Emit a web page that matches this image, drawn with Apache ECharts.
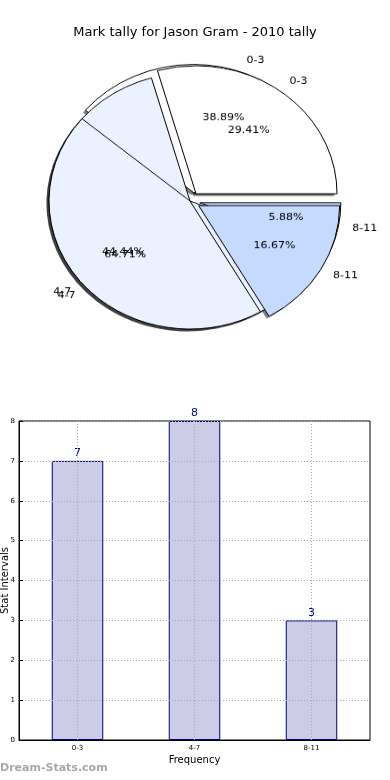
<!DOCTYPE html>
<html>
<head>
<meta charset="utf-8">
<script src="https://cdn.jsdelivr.net/npm/echarts@6/dist/echarts.min.js"></script>
<style>
html,body{margin:0;padding:0;background:#fff;}
#main{position:absolute;left:0;top:0;width:390px;height:780px;}
#pie{position:absolute;left:0;top:0;width:390px;height:390px;transform:scaleY(0.908);transform-origin:190px 201px;}
</style>
</head>
<body>
<div id="main"></div>
<div id="pie"></div>
<script>
// ---- data ----
const categories = ['0-3', '4-7', '8-11'];
const pieA = [7, 8, 3];          // 38.89%, 44.44%, 16.67%
const pieB = [5, 11, 1];         // 29.41%, 64.71%, 5.88%
const explodedA = [true, false, true];
const explodedB = [true, false, true];
const barValues = [7, 8, 3];
const yTicks = [0, 1, 2, 3, 4, 5, 6, 7, 8];

const sliceColors = ['#ffffff', '#ebf1fe', '#c6d9fe'];
const FONT = 'DejaVu Sans';

// ---- pie ----
const C = [190, 201], R = 141;
function items(vals, sel, visible, colorFn) {
  return vals.map((v, i) => ({
    name: categories[i], value: v, selected: sel[i],
    itemStyle: visible[i] ? colorFn(i) : {color: 'rgba(0,0,0,0)', borderWidth: 0}
  }));
}
const base = {
  type: 'pie', center: C, radius: R, startAngle: 0, clockwise: false,
  selectedMode: 'multiple', selectedOffset: 10, avoidLabelOverlap: false,
  animation: false, silent: true, emphasis: {disabled: true},
  label: {show: false}, labelLine: {show: false},
  labelLayout: {hideOverlap: false}
};
const solid = i => ({color: sliceColors[i], borderColor: '#000', borderWidth: 1});
const shadow = i => ({color: 'rgba(0,0,0,0.5)', borderWidth: 0});
const all = [true, true, true];
const pieSeries = [
  Object.assign({}, base, {center: [C[0] - 2.5, C[1] + 2.5], data: items(pieA, explodedA, all, shadow)}),
  Object.assign({}, base, {center: [C[0] - 2.5, C[1] + 2.5], data: items(pieB, explodedB, all, shadow)}),
  Object.assign({}, base, {data: items(pieA, explodedA, [true, false, false], solid)}),
  Object.assign({}, base, {data: items(pieB, explodedB, all, solid)}),
  Object.assign({}, base, {data: items(pieA, explodedA, [false, true, true], solid)})
];
function pctLabels(vals, sel) {
  return Object.assign({}, base, {
    radius: R * 1.2,
    data: items(vals, sel, [false, false, false], solid),
    label: {show: true, position: 'inside', formatter: '{d}%', color: '#000', fontSize: 11, fontFamily: FONT}
  });
}
function catLabels(vals, sel) {
  return Object.assign({}, base, {
    data: items(vals, sel, [false, false, false], solid),
    label: {show: true, position: 'outside', formatter: '{b}', color: '#000', fontSize: 11,
            fontFamily: FONT, distanceToLabelLine: 0},
    labelLine: {show: false, length: R * 0.1, length2: 0}
  });
}
pieSeries.push(pctLabels(pieA, explodedA), pctLabels(pieB, explodedB),
               catLabels(pieA, explodedA), catLabels(pieB, explodedB));

const pie = echarts.init(document.getElementById('pie'));
pie.setOption({animation: false, series: pieSeries});

// ---- bar + title ----
const main = echarts.init(document.getElementById('main'));
main.setOption({
  animation: false,
  title: {text: 'Mark tally for Jason Gram - 2010 tally', left: 'center', top: 21,
          textStyle: {fontFamily: FONT, fontSize: 13, fontWeight: 'normal', color: '#000'}},
  grid: {left: 19, right: 20, top: 421, bottom: 40, show: true, borderColor: '#000', borderWidth: 1,
         backgroundColor: 'transparent', containLabel: false, outerBoundsMode: 'none'},
  xAxis: {
    type: 'category', data: categories, z: 10,
    name: 'Frequency', nameLocation: 'middle', nameGap: 15, nameMoveOverlap: false,
    nameTextStyle: {fontFamily: FONT, fontSize: 10, color: '#000'},
    axisLine: {lineStyle: {color: '#000'}},
    axisTick: {inside: true, alignWithLabel: true, length: 4, lineStyle: {color: '#000'}},
    axisLabel: {fontFamily: FONT, fontSize: 7, color: '#000', margin: 5},
    splitLine: {show: false}
  },
  yAxis: {
    type: 'value', min: 0, max: 8, interval: 1, z: 10,
    name: 'Stat Intervals', nameLocation: 'middle', nameGap: 9, nameRotate: 90, nameMoveOverlap: false,
    nameTextStyle: {fontFamily: FONT, fontSize: 10, color: '#000'},
    axisLine: {show: true, lineStyle: {color: '#000'}},
    axisTick: {show: true, inside: true, length: 4, lineStyle: {color: '#000'}},
    axisLabel: {fontFamily: FONT, fontSize: 7, color: '#000', margin: 4},
    splitLine: {show: true, lineStyle: {color: '#aaa', type: [1, 2], width: 1}}
  },
  graphic: [{type: 'text', left: 0, top: 763,
             style: {text: 'Dream-Stats.com', fontFamily: FONT, fontSize: 11, fontWeight: 'bold', fill: '#a8a8a8'}}],
  series: [{
    type: 'bar', data: barValues, barWidth: '44%',
    itemStyle: {color: '#ccccE6', borderColor: '#000080', borderWidth: 1},
    label: {show: true, position: 'top', distance: 2, color: '#000080', fontSize: 11, fontFamily: FONT},
    markLine: {
      silent: true, symbol: 'none', label: {show: false}, animation: false,
      lineStyle: {color: '#aaa', type: [1, 2], width: 1},
      data: categories.map(c => ({xAxis: c}))
    }
  }]
});
</script>
</body>
</html>
